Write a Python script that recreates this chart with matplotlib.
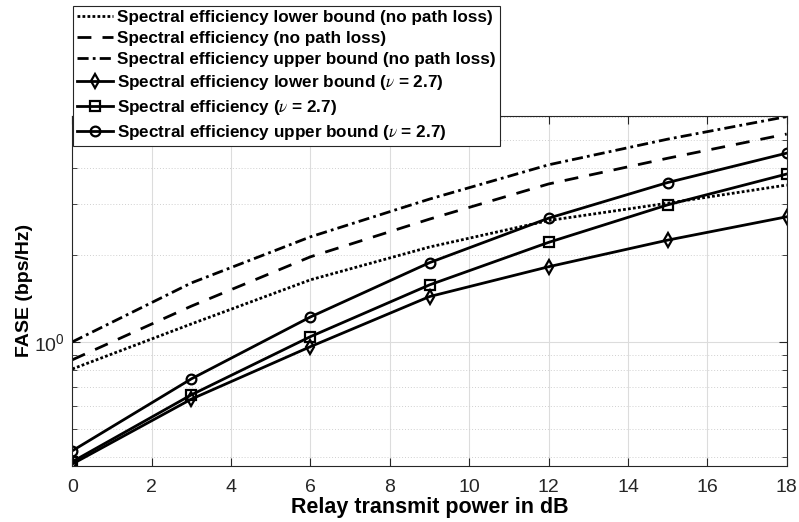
import matplotlib
matplotlib.use("Agg")
import matplotlib.pyplot as plt
from matplotlib.ticker import LogLocator, NullFormatter

plt.rcParams["font.family"] = ["Liberation Sans", "DejaVu Sans"]
plt.rcParams["mathtext.fontset"] = "stix"

# relay transmit power (dB)
power_db = [0, 3, 6, 9, 12, 15, 18]

# no path loss curves
se_lower_npl = [0.806, 1.154, 1.64, 2.13, 2.63, 3.02, 3.49]
se_npl = [0.867, 1.33, 1.97, 2.66, 3.52, 4.32, 5.24]
se_upper_npl = [1.0, 1.60, 2.31, 3.12, 4.10, 5.03, 6.02]

# path loss exponent nu = 2.7
se_lower_pl = [0.378, 0.634, 0.963, 1.435, 1.82, 2.25, 2.71]
se_pl = [0.385, 0.656, 1.043, 1.575, 2.21, 2.98, 3.81]
se_upper_pl = [0.42, 0.745, 1.22, 1.88, 2.68, 3.56, 4.5]

x_ticks = list(range(0, 19, 2))

fig = plt.figure(figsize=(7.99, 5.22), dpi=100)
ax = fig.add_axes([0.0905, 0.1079, 0.8941, 0.6699])

lw = 2.0
ax.plot(power_db, se_lower_npl, color="k", lw=lw, linestyle=(0, (1, 0.8)),
        label="Spectral efficiency lower bound (no path loss)")
ax.plot(power_db, se_npl, color="k", lw=lw, linestyle=(0, (5, 4)),
        label="Spectral efficiency (no path loss)")
ax.plot(power_db, se_upper_npl, color="k", lw=lw, linestyle=(0, (4, 1.5, 1, 1.5)),
        label="Spectral efficiency upper bound (no path loss)")
mk = dict(color="k", lw=lw, markersize=7, markerfacecolor="none", markeredgewidth=1.6)
ax.plot(power_db, se_lower_pl, marker="d",
        label=r"Spectral efficiency lower bound ($\nu$ = 2.7)", **mk)
ax.plot(power_db, se_pl, marker="s",
        label=r"Spectral efficiency ($\nu$ = 2.7)", **mk)
ax.plot(power_db, se_upper_pl, marker="o",
        label=r"Spectral efficiency upper bound ($\nu$ = 2.7)", **mk)

ax.set_yscale("log")
ax.set_xlim(0, 18)
ax.set_ylim(0.373, 6.05)
ax.set_xticks(x_ticks)
ax.yaxis.set_major_locator(LogLocator(base=10))
ax.yaxis.set_minor_locator(LogLocator(base=10, subs=range(2, 10)))
ax.yaxis.set_minor_formatter(NullFormatter())

ax.grid(True, which="major", color="#dcdcdc", lw=0.8)
ax.grid(True, which="minor", axis="y", color="#d0d0d0", lw=0.7, linestyle=(0, (1, 2)))
ax.set_axisbelow(True)

for s in ax.spines.values():
    s.set_color("#262626")
    s.set_linewidth(0.8)
ax.tick_params(which="both", direction="in", top=True, right=True, colors="#262626",
               labelsize=14)
ax.tick_params(which="major", length=6)
ax.tick_params(which="minor", length=3.5)
ax.tick_params(axis="x", pad=9.5)
ax.tick_params(axis="y", pad=5)

ax.set_xlabel("Relay transmit power in dB", fontsize=15.5, fontweight="bold", labelpad=1)
ax.set_ylabel("FASE (bps/Hz)", fontsize=14, fontweight="bold", labelpad=1)

leg = ax.legend(loc="upper left", bbox_to_anchor=(73 / 799, 1 - 6 / 522),
                bbox_transform=fig.transFigure, borderaxespad=0,
                prop={"weight": "bold", "size": 12.3}, handlelength=2.1,
                handletextpad=0.25, labelspacing=0.35, borderpad=0.25,
                fancybox=False, framealpha=1, edgecolor="#262626")
leg.get_frame().set_linewidth(0.8)

fig.savefig("out.png", dpi=100)
